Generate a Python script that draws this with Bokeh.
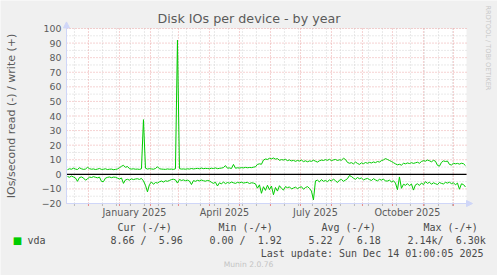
import math
import numpy as np
from bokeh.plotting import figure
from bokeh.models import FixedTicker, Label, Range1d, Arrow, NormalHead
from bokeh.embed import file_html
from bokeh.resources import INLINE

# ---------------- data ----------------
title_text = "Disk IOs per device - by year"
y_label = "IOs/second read (-) / write (+)"
device = "vda"
series_start = "2024-11-10"
step_days = 2
range_start = "2024-11-09T01:00:05"
range_end = "2025-12-14T01:00:05"

write_vals = [
    3.2, 3.8, 3.5, 4.2, 3.6, 3.3, 4.5, 3.8, 3.4, 3.6,
    4.8, 3.9, 3.5, 3.7, 3.3, 3.6, 4.0, 3.4, 3.5, 3.8,
    3.3, 3.5, 3.6, 3.2, 3.4, 3.7, 4.5, 5.5, 6.2, 4.8,
    5.4, 3.9, 3.6, 3.8, 3.5, 3.6, 3.4, 3.8, 37.5, 4.2,
    3.6, 3.9, 3.7, 3.5, 4.0, 5.2, 3.8, 3.6, 3.5, 3.4,
    3.7, 3.5, 3.6, 3.4, 3.8, 92.0, 3.9, 3.6, 3.7, 3.5,
    3.8, 3.6, 4.0, 3.7, 3.9, 4.1, 3.8, 4.3, 3.9, 4.1,
    4.0, 3.8, 4.2, 4.0, 4.4, 3.9, 4.1, 4.3, 4.6, 6.0,
    4.2, 4.4, 4.0, 6.8, 4.2, 4.5, 4.3, 4.6, 4.4, 4.8,
    4.5, 4.7, 4.6, 4.9, 5.2, 6.8, 7.2, 6.9, 9.8, 10.5,
    10.2, 11.0, 10.6, 11.2, 10.4, 10.8, 9.6, 10.1, 9.8, 10.3,
    9.4, 9.9, 9.2, 9.6, 8.9, 9.5, 9.1, 9.8, 8.7, 9.3,
    8.6, 9.2, 8.9, 9.7, 9.0, 8.4, 9.3, 9.8, 9.5, 10.1,
    9.6, 10.3, 9.4, 9.9, 10.2, 9.5, 10.0, 9.7, 11.0, 10.2,
    8.2, 7.6, 8.0, 7.2, 8.4, 7.5, 6.8, 7.9, 7.3, 8.1,
    7.6, 8.2, 7.8, 8.5, 8.0, 8.8, 8.4, 9.4, 9.9, 10.8,
    10.2, 9.5, 8.8, 8.0, 7.2, 6.5, 6.9, 6.3, 7.6, 7.2,
    7.8, 7.4, 8.0, 7.5, 7.9, 8.3, 7.6, 8.8, 9.4, 9.0,
    9.8, 9.3, 8.6, 9.6, 9.0, 6.2, 5.6, 8.2, 9.2, 8.8,
    9.1, 6.8, 6.4, 7.6, 7.2, 7.5, 7.0, 7.6, 7.3, 5.96,
]

read_vals = [
    1.5, 2.0, 1.2, 1.8, 2.5, 4.8, 2.2, 1.8, 2.5, 4.0,
    3.2, 1.8, 2.2, 1.6, 2.0, 2.4, 1.9, 4.8, 5.0, 2.6,
    2.1, 1.8, 2.3, 1.9, 2.0, 2.6, 3.2, 2.5, 6.2, 3.8,
    3.4, 4.0, 3.1, 3.6, 3.2, 3.0, 3.5, 2.8, 4.5, 7.5,
    12.0, 7.0, 5.2, 6.8, 5.6, 6.0, 5.1, 4.6, 5.3, 4.4,
    4.8, 4.2, 3.6, 3.4, 3.8, 6.0, 3.5, 4.2, 3.8, 4.4,
    4.0, 4.6, 7.0, 4.3, 4.8, 4.1, 4.5, 3.9, 4.4, 4.7,
    4.2, 4.5, 5.5, 6.2, 5.4, 8.0, 5.8, 6.6, 5.2, 6.4,
    5.6, 6.1, 5.3, 5.8, 6.2, 5.5, 5.9, 5.4, 6.0, 5.7,
    5.5, 6.3, 5.8, 6.0, 6.5, 9.5, 7.2, 13.0, 8.5, 11.0,
    7.5, 10.5, 8.0, 14.0, 9.0, 11.5, 7.8, 9.6, 10.8, 8.4,
    9.2, 8.6, 10.0, 9.4, 8.8, 9.8, 9.0, 8.5, 10.2, 9.1,
    8.4, 9.6, 11.5, 17.5, 4.5, 4.0, 5.2, 3.6, 4.8, 4.2,
    5.0, 3.8, 4.6, 3.2, 4.4, 5.6, 4.0, 3.5, 4.8, 3.9,
    3.0, 0.8, 1.5, 2.6, 3.4, 2.2, 3.0, 2.5, 3.8, 3.2,
    2.8, 3.6, 4.2, 3.0, 3.8, 4.5, 3.4, 4.0, 3.2, 4.6,
    4.6, 4.0, 5.2, 4.4, 6.0, 10.5, 1.8, 9.6, 6.8, 7.5,
    6.4, 7.8, 6.6, 10.8, 7.2, 6.5, 7.6, 6.0, 7.0, 5.0,
    6.2, 5.4, 6.8, 5.8, 6.4, 7.0, 5.6, 6.2, 6.6, 5.5,
    6.0, 5.4, 6.4, 5.8, 7.2, 6.0, 10.2, 6.5, 7.0, 8.66,
]

y_bottom, y_top = -20, 100
y_major = [-20, -10, 0, 10, 20, 30, 40, 50, 60, 70, 80, 90, 100]
y_minor = [-15, -5, 5, 15, 25, 35, 45, 55, 65, 75, 85, 95]
month_labels = ["January 2025", "April 2025", "July 2025", "October 2025"]
month_label_dates = ["2025-01-16", "2025-04-16", "2025-07-16", "2025-10-16"]
month_starts = ["2024-12-01", "2025-01-01", "2025-02-01", "2025-03-01", "2025-04-01",
                "2025-05-01", "2025-06-01", "2025-07-01", "2025-08-01", "2025-09-01",
                "2025-10-01", "2025-11-01", "2025-12-01"]
biweekly = ["2024-11-17", "2024-12-15", "2024-12-29", "2025-01-12", "2025-01-26",
            "2025-02-09", "2025-02-23", "2025-03-09", "2025-03-23", "2025-04-06", "2025-04-20",
            "2025-05-04", "2025-05-18", "2025-06-15", "2025-06-29", "2025-07-13",
            "2025-07-27", "2025-08-10", "2025-08-24", "2025-09-07", "2025-09-21", "2025-10-05",
            "2025-10-19", "2025-11-02", "2025-11-16", "2025-11-30"]

stat_headers = ["Cur (-/+)", "Min (-/+)", "Avg (-/+)", "Max (-/+)"]
stat_values = ["8.66 /\u00a0\u00a05.96", "0.00 /\u00a0\u00a01.92", "5.22 /\u00a0\u00a06.18",
               "2.14k/\u00a0\u00a06.30k"]
last_update = "Last update: Sun Dec 14 01:00:05 2025"
version_text = "Munin 2.0.76"
watermark = "RRDTOOL / TOBI OETIKER"


def ms(s):
    return float(np.datetime64(s, "ms").astype("int64"))


DAY = 86400000.0
t0 = ms(series_start)
dates = [t0 + i * step_days * DAY for i in range(len(write_vals))]
read_neg = [-v for v in read_vals]

# ---------------- layout ----------------
W, H = 497, 275
PL, PR, PT, PB = 66, 31, 28, 72          # plot area margins in pixels
FONT = "DejaVu Sans"
MONO = "DejaVu Sans Mono"
TXT = "#5a5a5a"
LEG = "#4a4a4a"
AXIS_C = "#CFD6F8"
MGRID = "#EBA5A5"
GRID = "#D4D4D4"
GREEN = "#00CC00"

x0, x1 = ms(range_start), ms(range_end)
span = x1 - x0
pw = W - PL - PR
ph = H - PT - PB
yspan = y_top - y_bottom
xr = Range1d(x0 - span * PL / pw, x1 + span * PR / pw)
yr = Range1d(y_bottom - yspan * PB / ph, y_top + yspan * PT / ph)
tick_len = 2.5 * yspan / ph               # small tick marks under the x axis (2.5 px)

p = figure(width=W, height=H, x_axis_type="datetime", output_backend="svg",
           toolbar_location=None, x_range=xr, y_range=yr,
           min_border_left=0, min_border_right=0, min_border_top=0, min_border_bottom=0)
p.background_fill_color = "#F0F0F0"
p.border_fill_color = "#F0F0F0"
p.outline_line_color = None
for g in p.grid:
    g.visible = False

# plot area
p.quad(left=[x0], right=[x1], bottom=[y_bottom], top=[y_top], fill_color="white", line_color=None)

# grid lines
bw = [ms(d) for d in biweekly]
p.segment(x0=bw, y0=[y_bottom] * len(bw), x1=bw, y1=[y_top] * len(bw),
          line_color=GRID, line_dash="1 2", line_width=1)
p.segment(x0=bw, y0=[y_bottom - tick_len] * len(bw), x1=bw, y1=[y_bottom] * len(bw),
          line_color="#BBBBBB", line_width=1)
p.segment(x0=[x0] * len(y_minor), y0=y_minor, x1=[x1] * len(y_minor), y1=y_minor,
          line_color=GRID, line_dash="1 2", line_width=1)
mst = [ms(d) for d in month_starts]
p.segment(x0=mst, y0=[y_bottom] * len(mst), x1=mst, y1=[y_top] * len(mst),
          line_color=MGRID, line_dash="1 2", line_width=1)
p.segment(x0=mst, y0=[y_bottom - tick_len] * len(mst), x1=mst, y1=[y_bottom] * len(mst),
          line_color="#E58A8A", line_width=1)
p.segment(x0=[x0] * len(y_major), y0=y_major, x1=[x1] * len(y_major), y1=y_major,
          line_color=MGRID, line_dash="1 2", line_width=1)

# data
p.line(dates, write_vals, line_color=GREEN, line_width=1)
p.line(dates, read_neg, line_color=GREEN, line_width=1)
p.segment(x0=[x0], y0=[0], x1=[x1], y1=[0], line_color="black", line_width=1.4)

# axes (placed at the plot-area edges)
p.xaxis.fixed_location = y_bottom
p.xaxis.bounds = (x0, x1)
p.xaxis.ticker = FixedTicker(ticks=[ms(d) for d in month_label_dates])
p.xaxis.major_label_overrides = {ms(d): l for d, l in zip(month_label_dates, month_labels)}
p.xaxis.major_tick_out = 0
p.xaxis.major_tick_in = 0
p.xaxis.minor_tick_out = 0
p.xaxis.minor_tick_in = 0
p.xaxis.major_label_standoff = 3
p.xaxis.axis_line_color = AXIS_C
p.xaxis.major_label_text_font = FONT
p.xaxis.major_label_text_font_size = "9.6px"
p.xaxis.major_label_text_color = TXT

p.yaxis.fixed_location = x0
p.yaxis.bounds = (y_bottom, y_top)
p.yaxis.ticker = FixedTicker(ticks=y_major)
p.yaxis.axis_label = y_label
p.yaxis.axis_label_text_font = FONT
p.yaxis.axis_label_text_font_size = "11px"
p.yaxis.axis_label_text_font_style = "normal"
p.yaxis.axis_label_text_color = TXT
p.yaxis.axis_label_standoff = 21
p.yaxis.major_label_text_font = FONT
p.yaxis.major_label_text_font_size = "9.4px"
p.yaxis.major_label_text_color = TXT
p.yaxis.major_label_standoff = 5
p.yaxis.major_tick_out = 0
p.yaxis.major_tick_in = 0
p.yaxis.minor_tick_out = 0
p.yaxis.minor_tick_in = 0
p.yaxis.axis_line_color = AXIS_C

# axis arrows
p.add_layout(Arrow(x_start=x1, y_start=y_bottom, x_end=x1 + 6 * DAY, y_end=y_bottom,
                   line_color=AXIS_C,
                   end=NormalHead(size=6, fill_color=AXIS_C, line_color=AXIS_C)))
p.add_layout(Arrow(x_start=x0, y_start=y_top, x_end=x0, y_end=y_top + 4.5,
                   line_color=AXIS_C,
                   end=NormalHead(size=6, fill_color=AXIS_C, line_color=AXIS_C)))


def lab(text, x, y_px, size, font=MONO, color=LEG, align="left", baseline="middle", angle=0.0):
    p.add_layout(Label(x=x, y=y_px, x_units="canvas", y_units="canvas", text=text,
                       text_font=font, text_font_size=size, text_color=color,
                       text_align=align, text_baseline=baseline, angle=angle))


lab(title_text, 248.5, 18, "12.7px", font=FONT, color=TXT, align="center")
lab(watermark, 487, 5, "6.6px", font=FONT, color="#C8C8C8", angle=-math.pi / 2)

hdr_x = [117, 218, 321, 423]
val_x = [110, 209, 308, 407]
for t, x in zip(stat_headers, hdr_x):
    lab(t, x, 227, "10px")
for t, x in zip(stat_values, val_x):
    lab(t, x, 240, "10px")
lab("\u25A0", 17, 240, "10px", font=FONT, color=GREEN, align="center")
lab(device, 27, 240, "10px")
lab(last_update, 483, 253, "10px", align="right")
lab(version_text, 248, 264, "7.6px", font=FONT, color="#C4C4C4", align="center")

open("out.html", "w").write(file_html(p, INLINE))
